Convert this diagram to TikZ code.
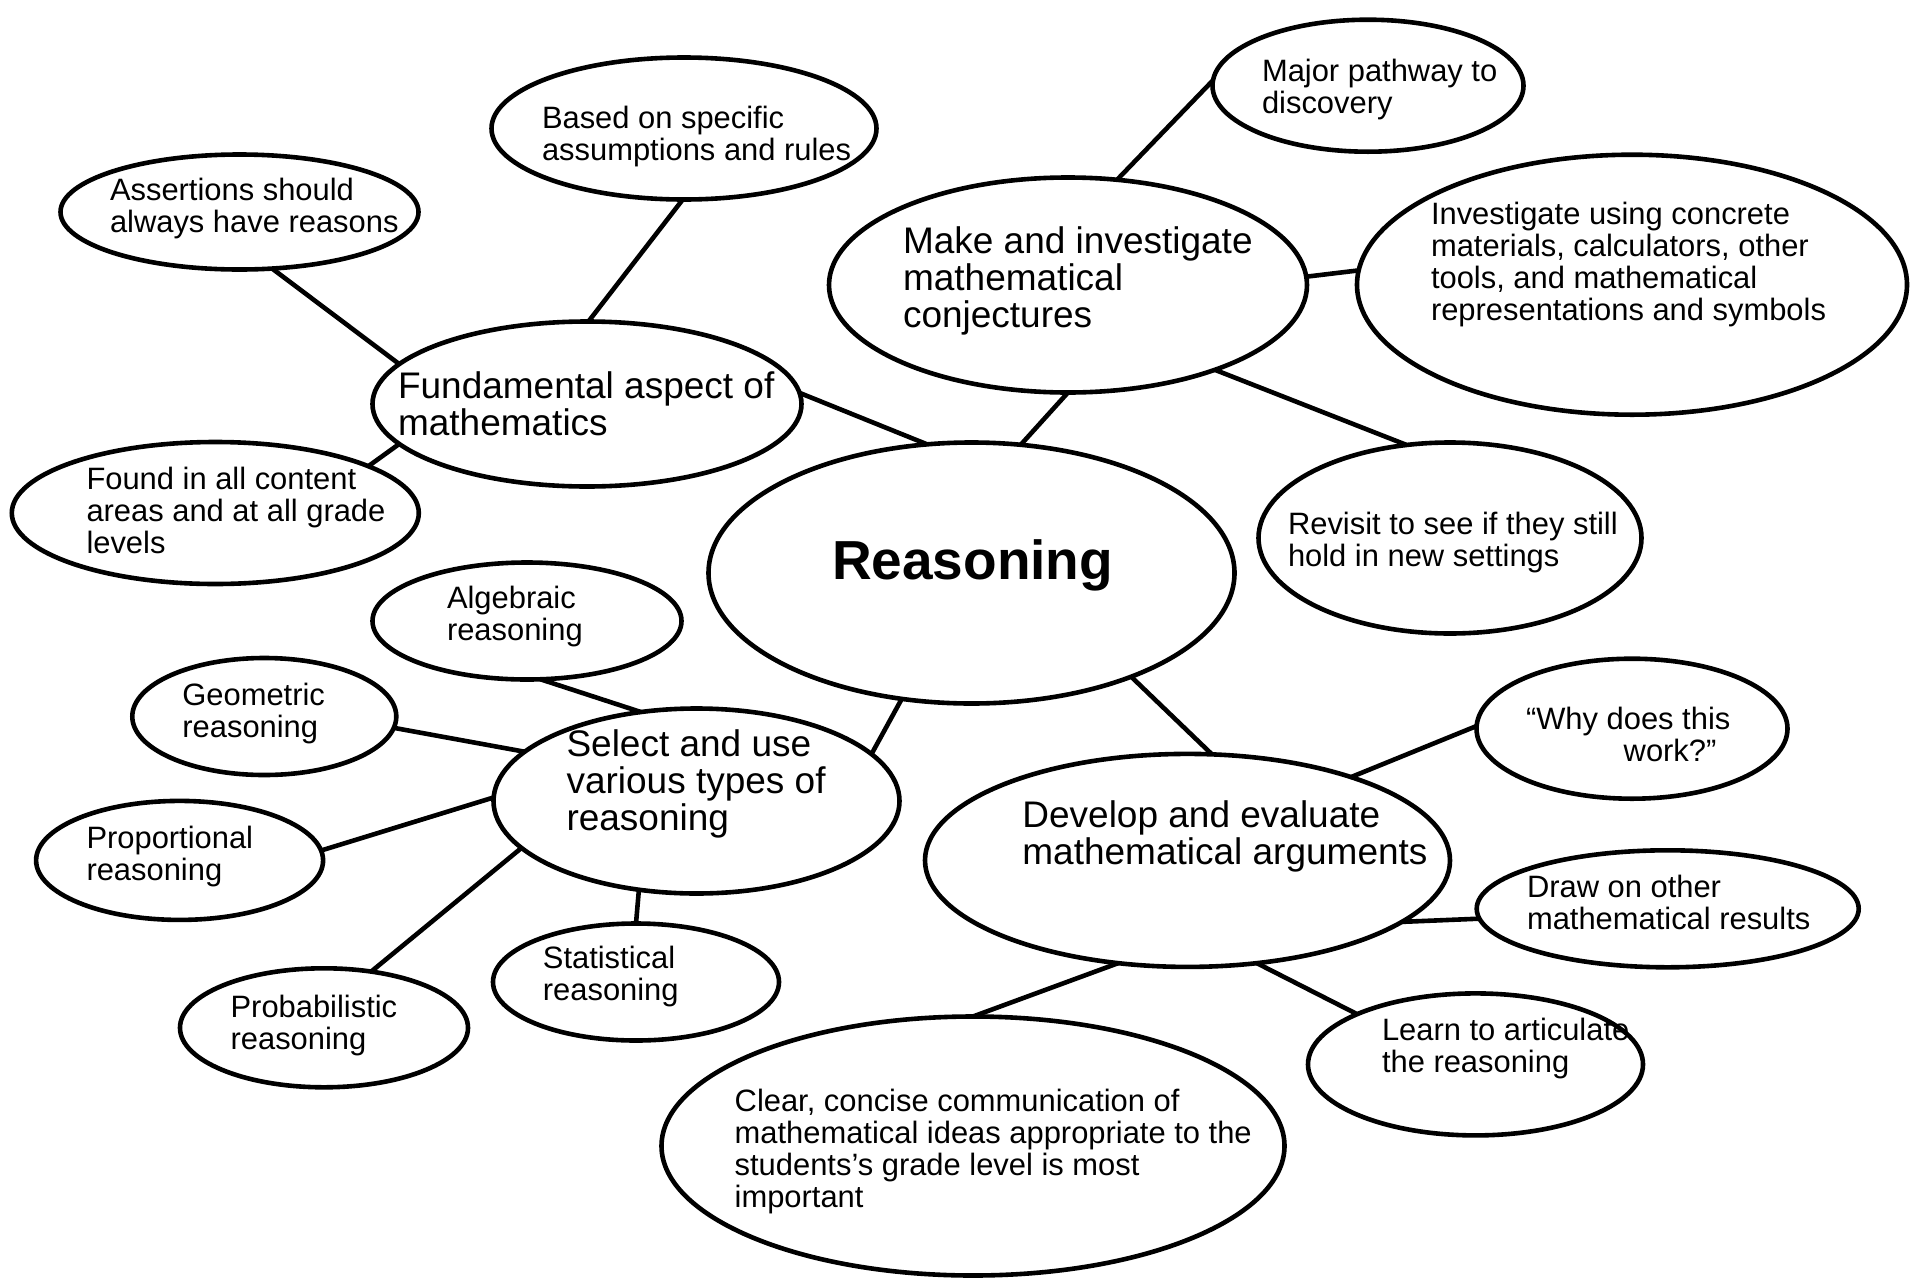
\documentclass[tikz,border=0pt]{standalone}
\usepackage{fontspec}
\setmainfont{Liberation Sans}
\usetikzlibrary{shapes.geometric}
\tikzset{
  bub/.style={draw=black, line width=4.6pt, ellipse, inner sep=0pt, outer sep=0pt},
  conn/.style={draw=black, line width=4.6pt},
  smalltxt/.style={inner sep=0pt, outer sep=0pt, anchor=base west, align=left, font=\fontsize{30.9}{32}\selectfont},
  bigtxt/.style={inner sep=0pt, outer sep=0pt, anchor=base west, align=left, font=\fontsize{37}{37}\selectfont},
  titletxt/.style={inner sep=0pt, outer sep=0pt, anchor=base west, font=\fontsize{55}{60}\selectfont\bfseries},
}
\begin{document}
\begin{tikzpicture}[x=1pt,y=-1pt]
\useasboundingbox (0,0) rectangle (1920,1280);
\fill[white] (0,0) rectangle (1920,1280);

% ellipses
\node[bub, minimum width=526pt, minimum height=261pt] (reas) at (971.5,573) {};
\node[bub, minimum width=429pt, minimum height=165pt] (fund) at (587,404) {};
\node[bub, minimum width=385pt, minimum height=142pt] (based) at (684,128.5) {};
\node[bub, minimum width=358pt, minimum height=115pt] (assert) at (239.5,212) {};
\node[bub, minimum width=407pt, minimum height=142pt] (found) at (215.3,513) {};
\node[bub, minimum width=478pt, minimum height=215pt] (make) at (1068,285) {};
\node[bub, minimum width=311pt, minimum height=132pt] (major) at (1368,85.7) {};
\node[bub, minimum width=550pt, minimum height=260pt] (invest) at (1632,284.7) {};
\node[bub, minimum width=383pt, minimum height=191pt] (revisit) at (1450,538) {};
\node[bub, minimum width=309pt, minimum height=117pt] (alg) at (527,621) {};
\node[bub, minimum width=264pt, minimum height=117pt] (geo) at (264.3,716.5) {};
\node[bub, minimum width=287pt, minimum height=119pt] (prop) at (179.6,860.4) {};
\node[bub, minimum width=406pt, minimum height=185pt] (select) at (696.5,801) {};
\node[bub, minimum width=288pt, minimum height=119pt] (prob) at (324,1027.8) {};
\node[bub, minimum width=286pt, minimum height=117pt] (stat) at (636,982) {};
\node[bub, minimum width=525pt, minimum height=213pt] (dev) at (1187.5,860.4) {};
\node[bub, minimum width=311pt, minimum height=140pt] (why) at (1632,728.7) {};
\node[bub, minimum width=382pt, minimum height=117pt] (drawon) at (1667.7,908.8) {};
\node[bub, minimum width=335pt, minimum height=142pt] (learn) at (1475.5,1064.4) {};
\node[bub, minimum width=623pt, minimum height=259pt] (clear) at (973,1146) {};

% texts (anchored at the baseline of the last line)
\node[titletxt] (reasT) at (832,579.6) {Reasoning};
\node[bigtxt] (fundT) at (398,435) {Fundamental aspect of\\mathematics};
\node[smalltxt] (basedT) at (542,160.3) {Based on specific\\assumptions and rules};
\node[smalltxt] (assertT) at (110,232) {Assertions should\\always have reasons};
\node[smalltxt] (foundT) at (86.5,553) {Found in all content\\areas and at all grade\\levels};
\node[bigtxt] (makeT) at (903,327) {Make and investigate\\mathematical\\conjectures};
\node[smalltxt] (majorT) at (1262,113.6) {Major pathway to\\discovery};
\node[smalltxt] (investT) at (1431,320.5) {Investigate using concrete\\materials, calculators, other\\tools, and mathematical\\representations and symbols};
\node[smalltxt] (revisitT) at (1288,566.7) {Revisit to see if they still\\hold in new settings};
\node[smalltxt] (algT) at (447,640) {Algebraic\\reasoning};
\node[smalltxt] (geoT) at (182.4,737.3) {Geometric\\reasoning};
\node[smalltxt] (propT) at (86.5,880) {Proportional\\reasoning};
\node[bigtxt] (selectT) at (566.5,830.3) {Select and use\\various types of\\reasoning};
\node[smalltxt] (probT) at (230.6,1049.6) {Probabilistic\\reasoning};
\node[smalltxt] (statT) at (542.9,1000.6) {Statistical\\reasoning};
\node[bigtxt] (devT) at (1022.4,864.8) {Develop and evaluate\\mathematical arguments};
\node[smalltxt] (whyT) at (1526,761) {“Why does this\\\hspace*{97.7pt}work?”};
\node[smalltxt] (drawonT) at (1527,929) {Draw on other\\mathematical results};
\node[smalltxt] (learnT) at (1382,1072) {Learn to articulate\\the reasoning};
\node[smalltxt] (clearT) at (734.7,1207.4) {Clear, concise communication of\\mathematical ideas appropriate to the\\students’s grade level is most\\important};

% connectors
\draw[conn] (fund.3.2) -- (reas.109.6);
\draw[conn] (make.270) -- (reas.69.2);
\draw[conn] (reas.241.3) -- (select.15.2);
\draw[conn] (reas.327.4) -- (dev.77.8);
\draw[conn] (based.269.2) -- (fund.89.1);
\draw[conn] (assert.300.3) -- (fund.168.1);
\draw[conn] (found.17.4) -- (fund.192);
\draw[conn] (make.65.6) -- (major.178.5);
\draw[conn] (make.2.9) -- (invest.177.5);
\draw[conn] (make.330.2) -- (revisit.115.1);
\draw[conn] (alg.283) -- (select.122.5);
\draw[conn] (geo.355.1) -- (select.164.8);
\draw[conn] (prop.4) -- (select.179.7);
\draw[conn] (prob.50.1) -- (select.195.3);
\draw[conn] (stat.90) -- (select.237.5);
\draw[conn] (dev.27) -- (why.179.7);
\draw[conn] (dev.344.7) -- (drawon.183.6);
\draw[conn] (dev.304) -- (learn.157.4);
\draw[conn] (dev.236.7) -- (clear.90);
\end{tikzpicture}
\end{document}
